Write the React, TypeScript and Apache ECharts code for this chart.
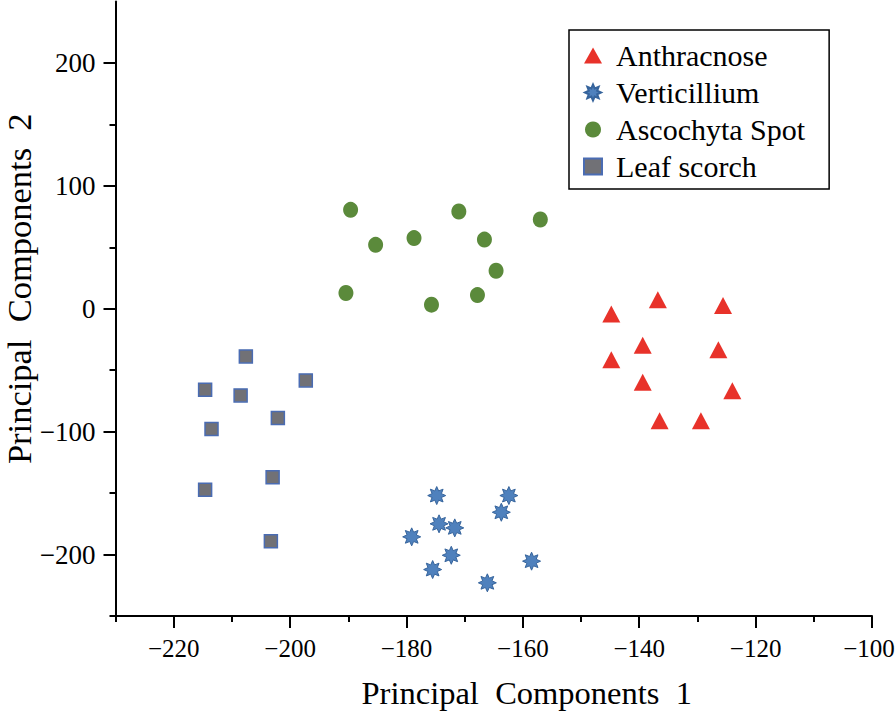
import React, { useEffect, useRef } from "react";
import * as echarts from "echarts";

// ---- data ----
const seriesNames = ["Anthracnose", "Verticillium", "Ascochyta Spot", "Leaf scorch"];

const anthracnose: number[][] = [
  [-144.8, -4.3], [-136.8, 7.3], [-125.6, 2.7], [-139.4, -29.8], [-144.8, -41.5],
  [-126.4, -33.3], [-139.4, -59.9], [-124.0, -66.7], [-136.5, -91.1], [-129.4, -91.1],
];
const verticillium: number[][] = [
  [-174.8, -152.0], [-162.4, -152.0], [-163.7, -165.6], [-174.4, -175.0], [-171.7, -178.3],
  [-179.1, -185.6], [-172.3, -200.6], [-175.5, -212.2], [-158.5, -205.4], [-166.1, -223.0],
];
const ascochyta: number[][] = [
  [-189.6, 80.5], [-171.0, 79.1], [-157.0, 72.6], [-185.3, 52.0], [-178.7, 57.5],
  [-166.6, 56.3], [-164.6, 30.9], [-190.4, 12.8], [-175.7, 3.3], [-167.8, 11.1],
];
const leafScorch: number[][] = [
  [-207.6, -38.8], [-197.3, -58.3], [-214.6, -65.9], [-208.5, -70.5], [-202.1, -88.9],
  [-213.5, -97.8], [-214.6, -147.2], [-203.0, -137.2], [-203.3, -189.2],
];

const xMajorTicks = [-220, -200, -180, -160, -140, -120, -100];
const xMinorTicks = [-230, -210, -190, -170, -150, -130, -110];
const yMajorTicks = [-200, -100, 0, 100, 200];
const yMinorTicks = [-250, -150, -50, 50, 150];
const xRange = [-230, -100];
const yRange = [-250, 250];

const FONT = "'Liberation Serif', 'Times New Roman', serif";

function starSymbol(): string {
  let d = "";
  for (let k = 0; k < 16; k++) {
    const a = ((-90 + k * 22.5) * Math.PI) / 180;
    const r = k % 2 === 0 ? 50 : 28;
    const x = 50 + r * Math.cos(a);
    const y = 50 + r * Math.sin(a);
    d += (k === 0 ? "M" : "L") + x.toFixed(2) + " " + y.toFixed(2);
  }
  return "path://" + d + "Z";
}

const fmt = (v: number) => (v < 0 ? "\u2212" + Math.abs(v) : String(v));
const fmtX = (v: number) => (v === xRange[1] ? "{last|" + fmt(v) + "}" : fmt(v));

export default function App() {
  const ref = useRef<HTMLDivElement>(null);
  useEffect(() => {
    if (!ref.current) return;
    const chart = echarts.init(ref.current, undefined, { renderer: "svg" });
    const axisLine = { show: true, onZero: false, lineStyle: { color: "#000", width: 2 } };
    const hiddenLine = { show: false, onZero: false };
    const star = starSymbol();
    chart.setOption({
      animation: false,
      backgroundColor: "#fff",
      grid: {
        left: 115.5,
        right: 24,
        top: 1.5,
        bottom: 97,
        containLabel: false,
        outerBoundsMode: "none",
      },
      legend: {
        orient: "vertical",
        left: 569,
        top: 30,
        padding: [7, 24, 4, 14],
        itemGap: 0,
        itemWidth: 18,
        itemHeight: 16,
        borderColor: "#000",
        borderWidth: 1.5,
        backgroundColor: "#fff",
        data: seriesNames,
        textStyle: { fontFamily: FONT, fontSize: 30, color: "#000", lineHeight: 37, padding: [0, 0, 0, 9] },
      },
      xAxis: [
        {
          type: "value",
          min: xRange[0],
          max: xRange[1],
          name: "Principal  Components  1",
          nameLocation: "middle",
          nameGap: 60,
          nameMoveOverlap: false,
          nameTextStyle: { fontFamily: FONT, fontSize: 32.5, color: "#000", padding: [0, 0, 0, 66] },
          axisLine,
          splitLine: { show: false },
          axisTick: { show: true, inside: false, length: 12, customValues: xMajorTicks, lineStyle: { color: "#000", width: 2 } },
          axisLabel: {
            customValues: xMajorTicks,
            formatter: fmtX,
            fontFamily: FONT,
            fontSize: 25,
            color: "#000",
            margin: 20,
            rich: { last: { fontFamily: FONT, fontSize: 25, color: "#000", padding: [0, 6, 0, 0] } },
          },
        },
        {
          type: "value",
          min: xRange[0],
          max: xRange[1],
          position: "bottom",
          axisLine: hiddenLine,
          splitLine: { show: false },
          axisTick: { show: true, inside: false, length: 6, customValues: xMinorTicks, lineStyle: { color: "#000", width: 2 } },
          axisLabel: { show: false },
        },
      ],
      yAxis: [
        {
          type: "value",
          min: yRange[0],
          max: yRange[1],
          name: "Principal  Components  2",
          nameLocation: "middle",
          nameGap: 80,
          nameRotate: 90,
          nameMoveOverlap: false,
          nameTextStyle: { fontFamily: FONT, fontSize: 34.5, lineHeight: 34, color: "#000", padding: [0, 0, 0, 40] },
          axisLine,
          splitLine: { show: false },
          axisTick: { show: true, inside: false, length: 12, customValues: yMajorTicks, lineStyle: { color: "#000", width: 2 } },
          axisLabel: { customValues: yMajorTicks, formatter: fmt, fontFamily: FONT, fontSize: 27, color: "#000", margin: 20 },
        },
        {
          type: "value",
          min: yRange[0],
          max: yRange[1],
          position: "left",
          axisLine: hiddenLine,
          splitLine: { show: false },
          axisTick: { show: true, inside: false, length: 6, customValues: yMinorTicks, lineStyle: { color: "#000", width: 2 } },
          axisLabel: { show: false },
        },
      ],
      series: [
        {
          name: seriesNames[0],
          type: "scatter",
          data: anthracnose,
          symbol: "triangle",
          symbolSize: [18, 17],
          itemStyle: { color: "#e8322a", opacity: 1 },
        },
        {
          name: seriesNames[1],
          type: "scatter",
          data: verticillium,
          symbol: star,
          symbolSize: 18,
          itemStyle: { color: "#4f81bd", borderColor: "#36649c", borderWidth: 1, opacity: 1 },
        },
        {
          name: seriesNames[2],
          type: "scatter",
          data: ascochyta,
          symbol: "circle",
          symbolSize: [15, 16],
          itemStyle: { color: "#5b8a3b", opacity: 1 },
        },
        {
          name: seriesNames[3],
          type: "scatter",
          data: leafScorch,
          symbol: "rect",
          symbolSize: 13,
          itemStyle: { color: "#717176", borderColor: "#4a6cb3", borderWidth: 1.5, opacity: 1 },
        },
      ],
    });
    return () => chart.dispose();
  }, []);
  return <div ref={ref} style={{ width: 896, height: 713, position: "absolute", left: 0, top: 0 }} />;
}
